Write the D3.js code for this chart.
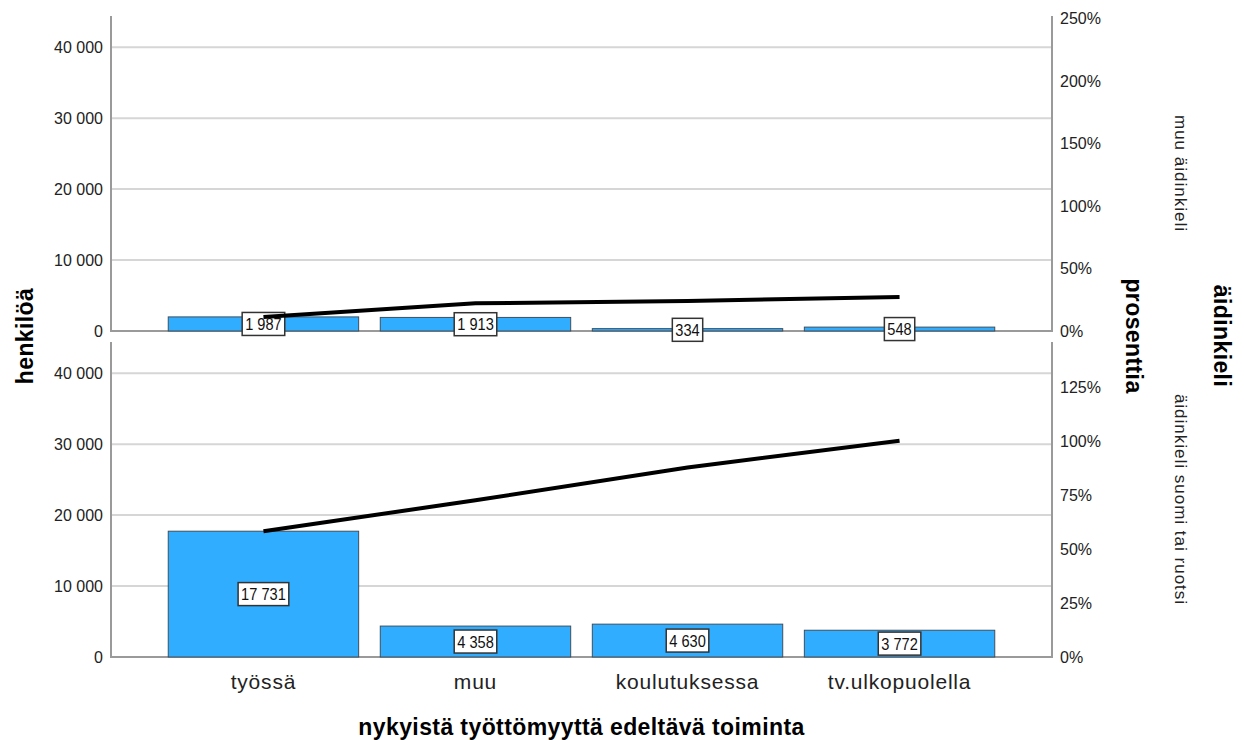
<!DOCTYPE html>
<html><head><meta charset="utf-8">
<script src="https://cdn.jsdelivr.net/npm/d3@7"></script>
<style>
html,body{margin:0;padding:0;background:#fff;}
svg{display:block;font-family:"Liberation Sans",Arial,sans-serif;}
</style></head>
<body>
<svg id="c" width="1244" height="740"></svg>
<script>
const categories = ["työssä", "muu", "koulutuksessa", "tv.ulkopuolella"];
const panelNames = ["muu äidinkieli", "äidinkieli suomi tai ruotsi"];
const countsMuu = [1987, 1913, 334, 548];
const countsSuomi = [17731, 4358, 4630, 3772];
const countTicks = [0, 10000, 20000, 30000, 40000];
const pctTicksTop = [0, 0.5, 1, 1.5, 2, 2.5];
const pctTicksBottom = [0, 0.25, 0.5, 0.75, 1, 1.25];
const countMax = 44400;
const pctMaxTop = 2.52;
const pctMaxBottom = 1.46;

const svg = d3.select("#c");
const loc = d3.formatLocale({decimal: ",", thousands: " ", grouping: [3], currency: ["", ""]});
const fmtN = loc.format(",d");
const fmtP = v => Math.round(v * 100) + "%";

const L = 111, R = 1052;
const x = d3.scaleBand().domain(categories).range([L, R]).paddingInner(0.102).paddingOuter(0.27);

const panels = [
  {name: panelNames[0], counts: countsMuu, top: 16, bottom: 331, pctMax: pctMaxTop, pctTicks: pctTicksTop},
  {name: panelNames[1], counts: countsSuomi, top: 342, bottom: 657, pctMax: pctMaxBottom, pctTicks: pctTicksBottom}
];

const gridCol = "#d6d6d6", axisCol = "#9a9a9a", txtCol = "#222";

panels.forEach(p => {
  const y = d3.scaleLinear().domain([0, countMax]).range([p.bottom, p.top]);
  const yp = d3.scaleLinear().domain([0, p.pctMax]).range([p.bottom, p.top]);
  const g = svg.append("g");

  g.selectAll("line.grid").data(countTicks.filter(t => t > 0)).join("line")
    .attr("x1", L).attr("x2", R).attr("y1", d => y(d)).attr("y2", d => y(d))
    .attr("stroke", gridCol).attr("stroke-width", 2);

  const la = g.append("g").attr("transform", `translate(${L},0)`)
    .call(d3.axisLeft(y).tickValues(countTicks).tickFormat(fmtN).tickSize(0).tickPadding(8));
  la.select(".domain").remove();
  la.selectAll("text").attr("font-size", 16).attr("fill", txtCol).attr("font-family", '"Liberation Sans",Arial,sans-serif');

  const ra = g.append("g").attr("transform", `translate(${R},0)`)
    .call(d3.axisRight(yp).tickValues(p.pctTicks).tickFormat(fmtP).tickSize(0).tickPadding(8));
  ra.select(".domain").remove();
  ra.selectAll("text").attr("font-size", 16).attr("fill", txtCol).attr("font-family", '"Liberation Sans",Arial,sans-serif');

  g.append("line").attr("x1", L).attr("x2", L).attr("y1", p.top).attr("y2", p.bottom).attr("stroke", axisCol).attr("stroke-width", 2);
  g.append("line").attr("x1", R).attr("x2", R).attr("y1", p.top).attr("y2", p.bottom).attr("stroke", axisCol).attr("stroke-width", 2);
  g.append("line").attr("x1", L - 1).attr("x2", R + 1).attr("y1", y(0)).attr("y2", y(0)).attr("stroke", axisCol).attr("stroke-width", 2);

  g.selectAll("rect.bar").data(p.counts).join("rect")
    .attr("x", (d, i) => x(categories[i]))
    .attr("width", x.bandwidth())
    .attr("y", d => y(d))
    .attr("height", d => y(0) - y(d))
    .attr("fill", "#31adff").attr("stroke", "#3f4f5c").attr("stroke-width", 1);

  const lg = g.selectAll("g.lab").data(p.counts).join("g")
    .attr("transform", (d, i) => `translate(${x(categories[i]) + x.bandwidth() / 2},${(y(d) + y(0)) / 2})`);
  lg.each(function(d) {
    const s = d3.select(this);
    const rect = s.append("rect").attr("fill", "#fff").attr("stroke", "#333").attr("stroke-width", 1.5);
    const t = s.append("text").text(fmtN(d)).attr("text-anchor", "middle").attr("dy", "0.36em")
      .attr("font-size", 17).attr("fill", "#111")
      .attr("transform", "scale(0.86,1)");
    const w = t.node().getComputedTextLength() * 0.86;
    rect.attr("x", -w / 2 - 3).attr("width", w + 6).attr("y", -11.5).attr("height", 23);
  });

  const cum = Array.from(d3.cumsum(p.counts));
  g.append("path").datum(cum)
    .attr("d", d3.line().x((d, i) => x(categories[i]) + x.bandwidth() / 2).y(d => y(d)))
    .attr("fill", "none").attr("stroke", "#000").attr("stroke-width", 4);

  const cy = (p.top + p.bottom) / 2;
  svg.append("text").text(p.name)
    .attr("transform", `translate(1180,${cy}) rotate(90)`)
    .attr("text-anchor", "middle").attr("dominant-baseline", "central")
    .attr("font-size", 17).attr("letter-spacing", 1).attr("fill", txtCol);
});

svg.selectAll("text.cat").data(categories).join("text")
  .attr("x", d => x(d) + x.bandwidth() / 2).attr("y", 689)
  .attr("text-anchor", "middle").attr("font-size", 21).attr("letter-spacing", 0.8).attr("fill", txtCol)
  .text(d => d);

svg.append("text").text("nykyistä työttömyyttä edeltävä toiminta")
  .attr("x", (L + R) / 2).attr("y", 735).attr("text-anchor", "middle")
  .attr("font-size", 23).attr("font-weight", "bold").attr("letter-spacing", 0.4).attr("fill", "#000");
svg.append("text").text("henkilöä")
  .attr("transform", "translate(25,336) rotate(-90)")
  .attr("text-anchor", "middle").attr("dominant-baseline", "central")
  .attr("font-size", 23).attr("font-weight", "bold").attr("letter-spacing", 0.4).attr("fill", "#000");
svg.append("text").text("prosenttia")
  .attr("transform", "translate(1134,336) rotate(90)")
  .attr("text-anchor", "middle").attr("dominant-baseline", "central")
  .attr("font-size", 23).attr("font-weight", "bold").attr("letter-spacing", 0.4).attr("fill", "#000");
svg.append("text").text("äidinkieli")
  .attr("transform", "translate(1222,336) rotate(90)")
  .attr("text-anchor", "middle").attr("dominant-baseline", "central")
  .attr("font-size", 23).attr("font-weight", "bold").attr("letter-spacing", 0.4).attr("fill", "#000");
</script>
</body></html>
